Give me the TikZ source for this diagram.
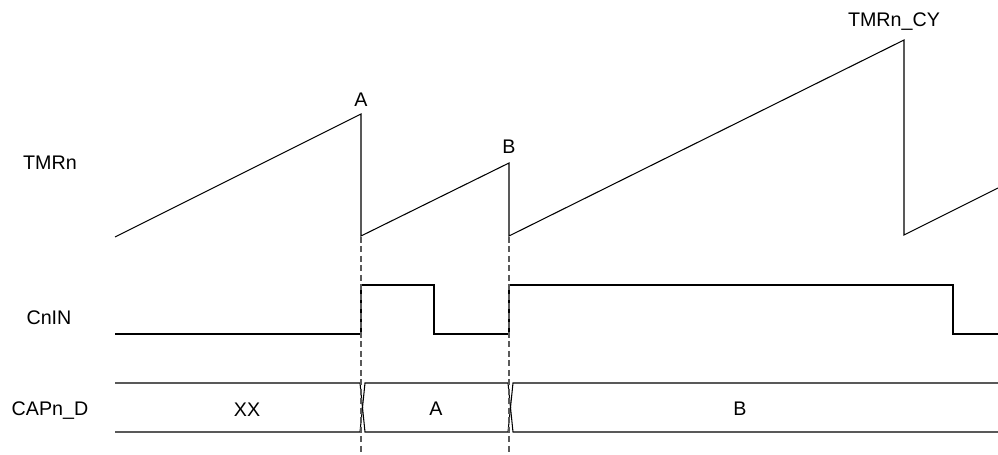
\documentclass[tikz,border=0pt]{standalone}
\usepackage{fontspec}
\setmainfont{Liberation Sans}
\usepackage{tikz}
\usetikzlibrary{calc}
\definecolor{dashgray}{RGB}{90,90,90}
\tikzstyle{wave}  = [line width=0.6pt, black, line join=miter]
\tikzstyle{guide} = [line width=0.6pt, dashgray, dash pattern=on 0.12cm off 0.07cm]
\tikzstyle{lbl}   = [inner sep=0pt, anchor=base, font=\fontsize{11.2}{13.4}\selectfont]

\begin{document}
\begin{tikzpicture}[x=0.02cm, y=-0.02cm]
    \useasboundingbox (0,0) rectangle (998,455);

    % signal names
    \node[lbl] (tmrn) at (50,170) {TMRn};
    \node[lbl] (cnin) at (49,325) {CnIN};
    \node[lbl] (capn) at (50,416) {CAPn\_D};

    % capture instants
    \coordinate (ta) at (361,114);
    \coordinate (tb) at (509,163);
    \coordinate (tcy) at (904,40);
    \node[lbl] (lA) at ($(ta)+(0,-7)$) {A};
    \node[lbl] (lB) at ($(tb)+(0,-9)$) {B};
    \node[lbl] (lcy) at ($(tcy)+(-10,-13)$) {TMRn\_CY};

    % counter
    \draw[wave] (115,237) -- (ta) -- (361,236) -- (tb) -- (509,236)
                -- (tcy) -- (904,235) -- (998,188);

    % input pin
    \draw[wave] (115,334) -- (361,334) -- (361,285) -- (434,285) -- (434,334)
                -- (509,334) -- (509,285) -- (953,285) -- (953,334) -- (998,334);

    % capture register bus
    \draw[wave] (115,383) -- (360,383) -- (365,432) -- (508,432) -- (513,383) -- (998,383);
    \draw[wave] (115,432) -- (360,432) -- (365,383) -- (508,383) -- (513,432) -- (998,432);
    \node[lbl] (dXX) at (247,417) {XX};
    \node[lbl] (dA)  at (436,416) {A};
    \node[lbl] (dB)  at (740,416) {B};

    \draw[guide] (361,237) -- (361,455);
    \draw[guide] (509,237) -- (509,455);
\end{tikzpicture}
\end{document}
